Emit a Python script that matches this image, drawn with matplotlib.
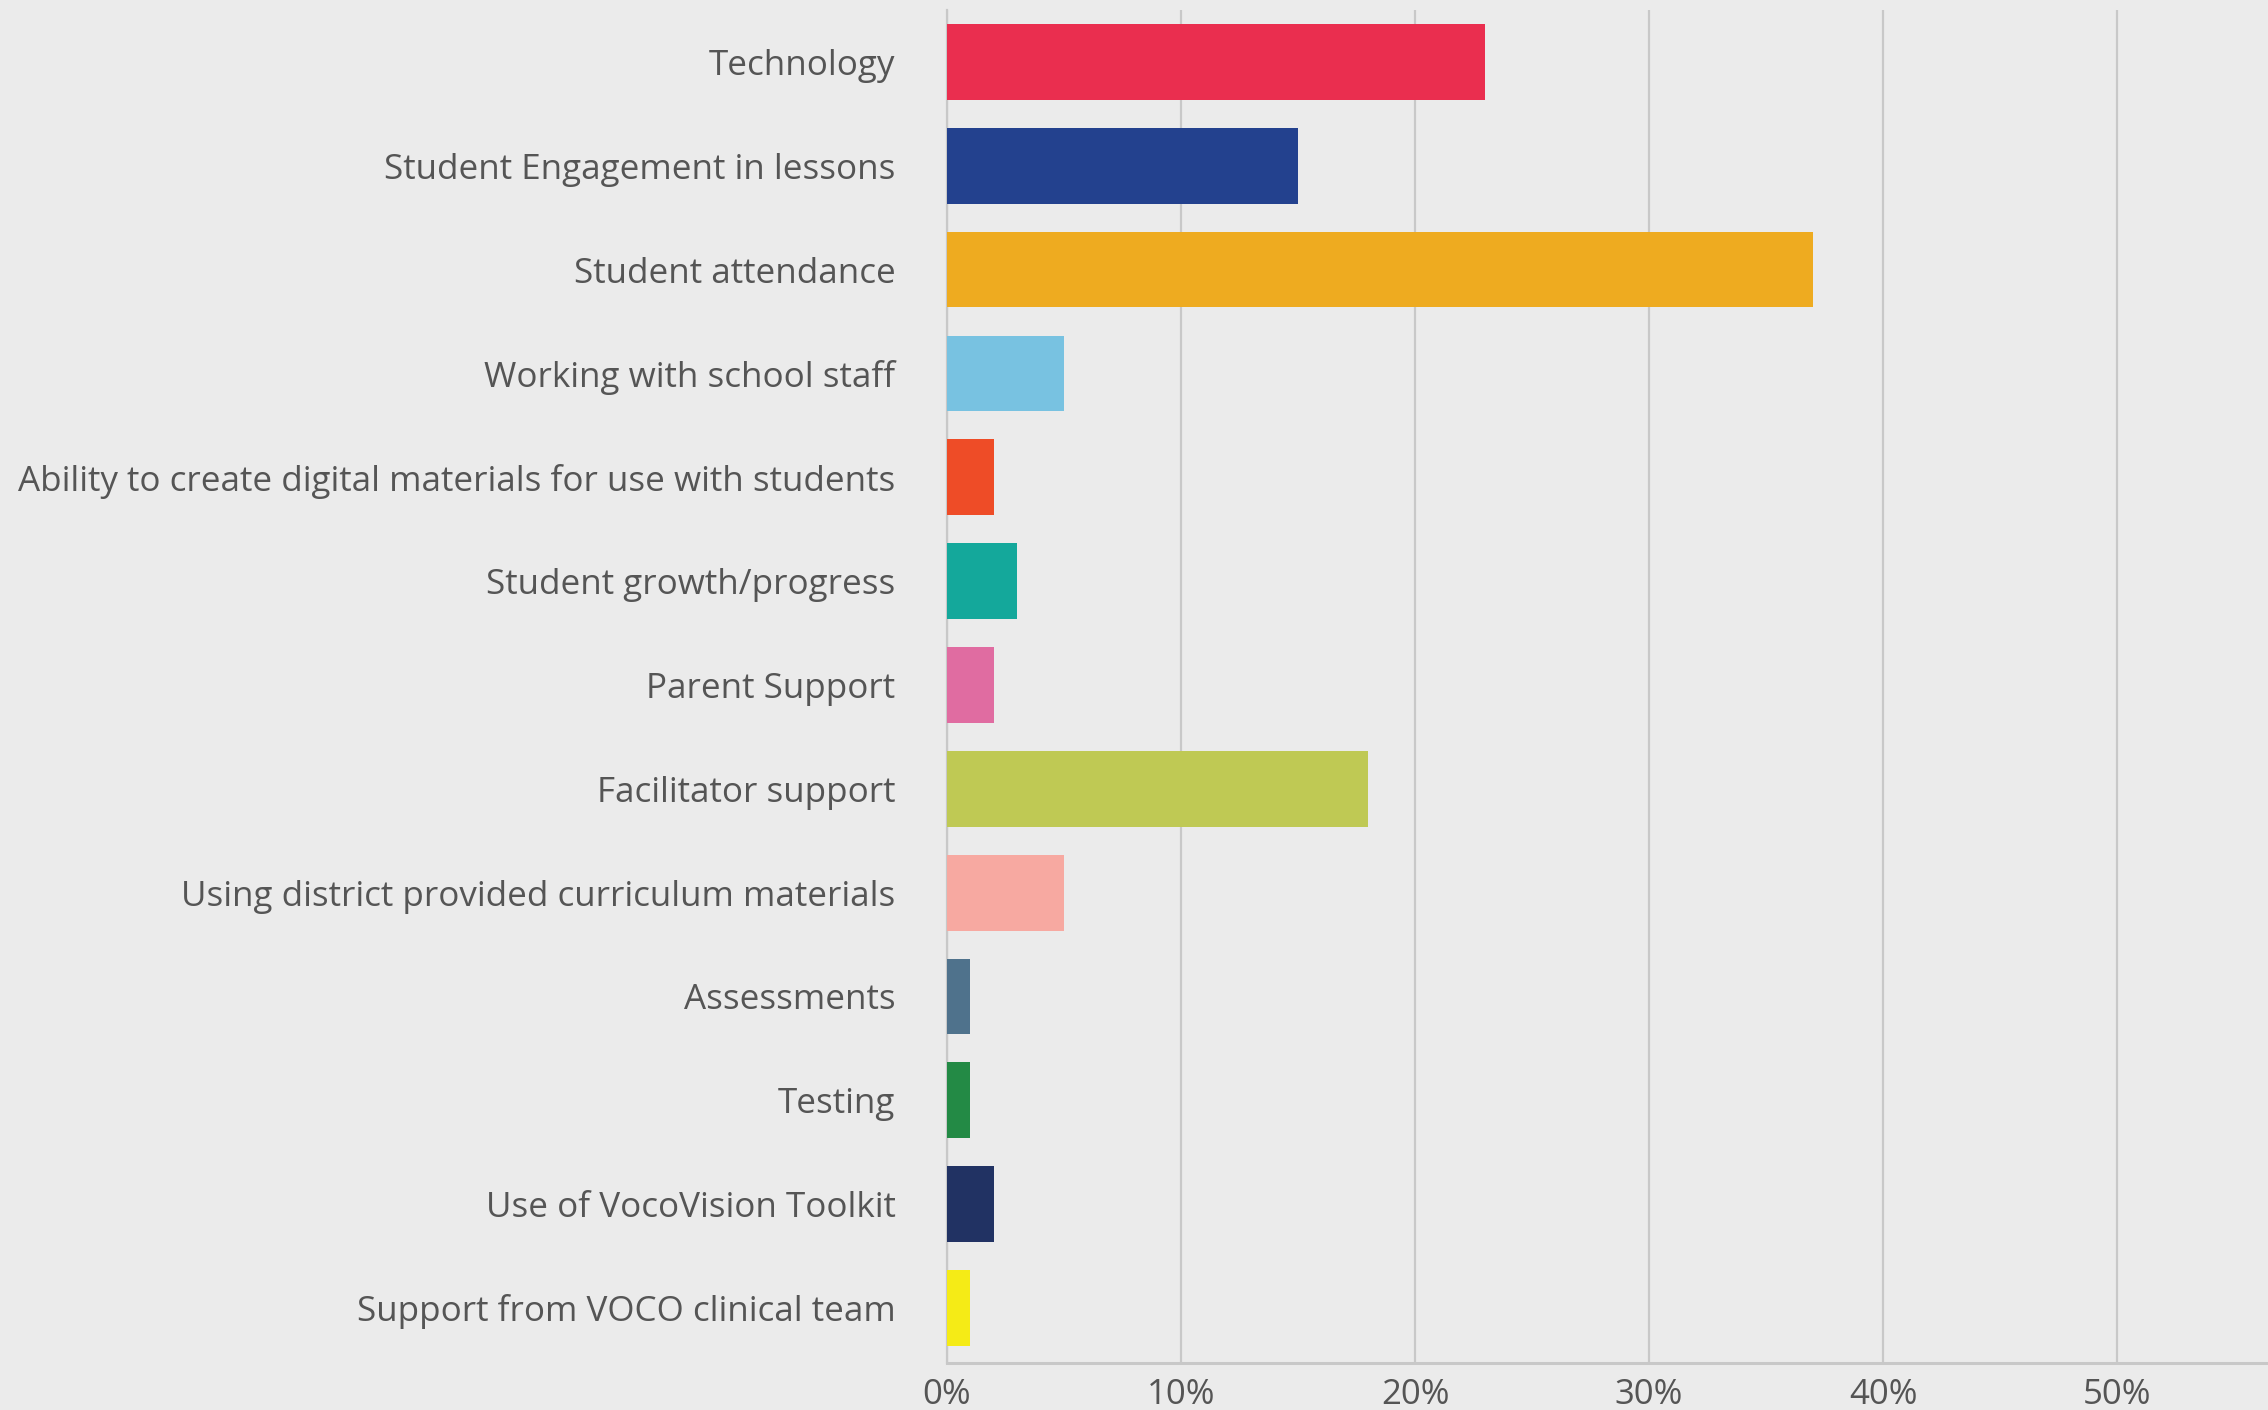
import matplotlib.pyplot as plt
from matplotlib.ticker import FuncFormatter

categories = [
    "Technology",
    "Student Engagement in lessons",
    "Student attendance",
    "Working with school staff",
    "Ability to create digital materials for use with students",
    "Student growth/progress",
    "Parent Support",
    "Facilitator support",
    "Using district provided curriculum materials",
    "Assessments",
    "Testing",
    "Use of VocoVision Toolkit",
    "Support from VOCO clinical team",
]
values = [23, 15, 37, 5, 2, 3, 2, 18, 5, 1, 1, 2, 1]
colors = ["#EA2E4F", "#23418E", "#EEAB20", "#78C2E1", "#EE4C27", "#14A89B",
          "#E06CA1", "#BFC954", "#F7A9A1", "#4F728C", "#238A45", "#213263",
          "#F5EB16"]
xticks = [0, 10, 20, 30, 40, 50]

bg = "#EBEBEB"
grid_c = "#C8C8C8"
text_c = "#555555"

plt.rcParams['font.family'] = ['Open Sans', 'DejaVu Sans']

fig = plt.figure(figsize=(22.68, 14.10), dpi=100, facecolor=bg)
ax = fig.add_axes([947 / 2268, 1 - 1363 / 1410, 1 - 947 / 2268, (1363 - 10) / 1410])
ax.set_facecolor(bg)

ypos = list(range(len(categories)))
ax.barh(ypos, values, height=0.73, color=colors, zorder=3)

ax.set_xlim(0, 56.45)
ax.set_ylim(12.53, -0.5)
ax.set_yticks(ypos)
ax.set_yticklabels(categories, fontsize=25.2, color=text_c)
ax.set_xticks(xticks)
ax.xaxis.set_major_formatter(FuncFormatter(lambda v, p: f"{v:.0f}%"))
ax.tick_params(axis='x', labelsize=25, colors=text_c, length=0, pad=11)
ax.tick_params(axis='y', length=0, pad=37)

ax.grid(axis='x', color=grid_c, linewidth=1.6, zorder=0)
for s in ['top', 'right']:
    ax.spines[s].set_visible(False)
ax.spines['bottom'].set_color(grid_c)
ax.spines['bottom'].set_linewidth(2.2)
ax.spines['left'].set_color(grid_c)
ax.spines['left'].set_linewidth(1.6)

fig.savefig("out.png", dpi=100, facecolor=bg)
